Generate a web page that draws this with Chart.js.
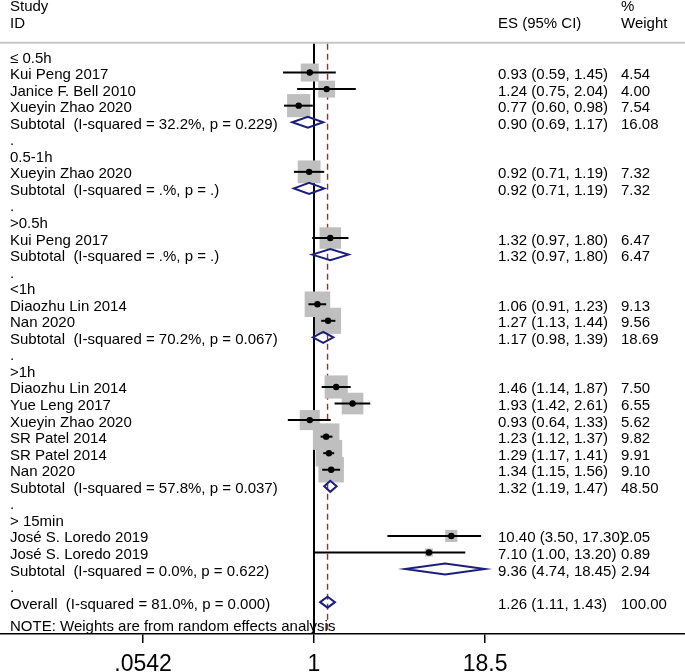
<!DOCTYPE html>
<html>
<head>
<meta charset="utf-8">
<script src="https://cdn.jsdelivr.net/npm/chart.js"></script>
<style>
  body { margin: 0; background: #fff; }
  #wrap { width: 685px; height: 672px; }
</style>
</head>
<body>

<div id="wrap"><canvas id="forest"></canvas></div>

<script>
// subgroups, in plot order
const groupLabels = ['≤ 0.5h', '0.5-1h', '>0.5h', '<1h', '>1h', '> 15min'];

// individual studies
const studyNames = [
  'Kui Peng 2017', 'Janice F. Bell 2010', 'Xueyin Zhao 2020',
  'Xueyin Zhao 2020',
  'Kui Peng 2017',
  'Diaozhu Lin 2014', 'Nan 2020',
  'Diaozhu Lin 2014', 'Yue Leng 2017', 'Xueyin Zhao 2020', 'SR Patel 2014', 'SR Patel 2014', 'Nan 2020',
  'José S. Loredo 2019', 'José S. Loredo 2019'
];
const studyGroup  = [0, 0, 0, 1, 2, 3, 3, 4, 4, 4, 4, 4, 4, 5, 5];
const studyES     = [0.93, 1.24, 0.77, 0.92, 1.32, 1.06, 1.27, 1.46, 1.93, 0.93, 1.23, 1.29, 1.34, 10.40, 7.10];
const studyLow    = [0.59, 0.75, 0.60, 0.71, 0.97, 0.91, 1.13, 1.14, 1.42, 0.64, 1.12, 1.17, 1.15, 3.50, 1.00];
const studyHigh   = [1.45, 2.04, 0.98, 1.19, 1.80, 1.23, 1.44, 1.87, 2.61, 1.33, 1.37, 1.41, 1.56, 17.30, 13.20];
const studyWeight = [4.54, 4.00, 7.54, 7.32, 6.47, 9.13, 9.56, 7.50, 6.55, 5.62, 9.82, 9.91, 9.10, 2.05, 0.89];

// subgroup pooled estimates
const subHet    = ['I-squared = 32.2%, p = 0.229', 'I-squared = .%, p = .', 'I-squared = .%, p = .',
                   'I-squared = 70.2%, p = 0.067', 'I-squared = 57.8%, p = 0.037', 'I-squared = 0.0%, p = 0.622'];
const subES     = [0.90, 0.92, 1.32, 1.17, 1.32, 9.36];
const subLow    = [0.69, 0.71, 0.97, 0.98, 1.19, 4.74];
const subHigh   = [1.17, 1.19, 1.80, 1.39, 1.47, 18.45];
const subWeight = [16.08, 7.32, 6.47, 18.69, 48.50, 2.94];

// overall
const overallHet = 'I-squared = 81.0%, p = 0.000';
const overallES = 1.26, overallLow = 1.11, overallHigh = 1.43, overallWeight = 100.00;

const xTicks = [0.0542, 1, 18.5];
const xTickLabels = ['.0542', '1', '18.5'];

// lay the rows out top to bottom
const rows = [];
groupLabels.forEach(function (g, gi) {
  if (gi > 0) rows.push({ kind: 'gap', text: '.' });
  rows.push({ kind: 'head', text: g });
  studyNames.forEach(function (n, i) {
    if (studyGroup[i] !== gi) return;
    rows.push({ kind: 'study', text: n, es: studyES[i], lo: studyLow[i], hi: studyHigh[i], w: studyWeight[i] });
  });
  rows.push({ kind: 'sub', text: 'Subtotal  (' + subHet[gi] + ')', es: subES[gi], lo: subLow[gi], hi: subHigh[gi], w: subWeight[gi] });
});
rows.push({ kind: 'gap', text: '.' });
rows.push({ kind: 'overall', text: 'Overall  (' + overallHet + ')', es: overallES, lo: overallLow, hi: overallHigh, w: overallWeight });

const FONT = '15px "Liberation Sans", Arial, sans-serif';
const NAVY = '#1b1f7c';

function fmt(v) { return v.toFixed(2); }

const studyPts = [];
const boxRadius = [];
rows.forEach(function (r, i) {
  if (r.kind !== 'study') return;
  studyPts.push({ x: r.es, y: i });
  boxRadius.push(8.45 * Math.sqrt(r.w) / Math.SQRT2);
});

const forestPlugin = {
  id: 'forest',
  beforeDatasetsDraw(chart) {
    const { ctx, chartArea } = chart;
    const x = chart.scales.x, y = chart.scales.y;
    const ruleY = y.getPixelForValue(-0.8);
    ctx.save();
    ctx.strokeStyle = '#c6c6c6';
    ctx.lineWidth = 2;
    ctx.beginPath();
    ctx.moveTo(0, ruleY); ctx.lineTo(chart.width, ruleY);
    ctx.stroke();

    // null line
    const x1 = x.getPixelForValue(1);
    ctx.strokeStyle = '#000';
    ctx.lineWidth = 2;
    ctx.beginPath();
    ctx.moveTo(x1, ruleY + 1); ctx.lineTo(x1, chartArea.bottom);
    ctx.stroke();

    // overall effect line
    const xo = x.getPixelForValue(overallES);
    ctx.strokeStyle = '#a12e2e';
    ctx.lineWidth = 1.4;
    ctx.setLineDash([6, 4]);
    ctx.beginPath();
    ctx.moveTo(xo, ruleY + 1); ctx.lineTo(xo, chartArea.bottom);
    ctx.stroke();
    ctx.restore();
  },
  afterDatasetsDraw(chart) {
    const { ctx } = chart;
    const x = chart.scales.x, y = chart.scales.y;
    ctx.save();

    rows.forEach(function (r, i) {
      const py = y.getPixelForValue(i);
      if (r.kind === 'study') {
        ctx.strokeStyle = '#000';
        ctx.lineWidth = 2;
        ctx.beginPath();
        ctx.moveTo(x.getPixelForValue(r.lo), py);
        ctx.lineTo(x.getPixelForValue(r.hi), py);
        ctx.stroke();
      } else if (r.kind === 'sub' || r.kind === 'overall') {
        const xl = x.getPixelForValue(r.lo), xm = x.getPixelForValue(r.es), xh = x.getPixelForValue(r.hi);
        ctx.strokeStyle = NAVY;
        ctx.lineWidth = 2;
        ctx.beginPath();
        ctx.moveTo(xl, py);
        ctx.lineTo(xm, py - 5.5);
        ctx.lineTo(xh, py);
        ctx.lineTo(xm, py + 5.5);
        ctx.closePath();
        ctx.stroke();
      }
    });

    // text columns
    ctx.fillStyle = '#000';
    ctx.font = FONT;
    ctx.textBaseline = 'alphabetic';
    ctx.textAlign = 'left';
    const colES = 498, colW = 621, colL = 10;

    const hy1 = y.getPixelForValue(-3.14) + 6.5;
    const hy2 = y.getPixelForValue(-2.10) + 6.5;
    ctx.fillText('Study', colL, hy1);
    ctx.fillText('ID', colL, hy2);
    ctx.fillText('ES (95% CI)', colES, hy2);
    ctx.fillText('%', colW, hy1);
    ctx.fillText('Weight', colW, hy2);

    rows.forEach(function (r, i) {
      const by = y.getPixelForValue(i) + 6.5;
      ctx.fillText(r.text, colL, by);
      if (r.es !== undefined) {
        ctx.fillText(fmt(r.es) + ' (' + fmt(r.lo) + ', ' + fmt(r.hi) + ')', colES, by);
        ctx.fillText(fmt(r.w), colW, by);
      }
    });

    ctx.fillText('NOTE: Weights are from random effects analysis', colL, y.getPixelForValue(34.38) + 6.5);
    ctx.restore();
  }
};

new Chart(document.getElementById('forest'), {
  type: 'scatter',
  data: {
    datasets: [
      {
        label: 'point',
        data: studyPts,
        pointStyle: 'circle',
        pointRadius: 3.2,
        backgroundColor: '#000',
        borderWidth: 0,
        order: 1
      },
      {
        label: 'weight',
        data: studyPts,
        pointStyle: 'rect',
        pointRadius: boxRadius,
        backgroundColor: '#bfbfbf',
        borderWidth: 0,
        order: 2
      }
    ]
  },
  options: {
    responsive: true,
    maintainAspectRatio: false,
    animation: false,
    layout: { padding: 0, autoPadding: false },
    plugins: {
      legend: { display: false },
      tooltip: { enabled: false }
    },
    scales: {
      x: {
        type: 'logarithmic',
        min: 0.00472,
        max: 560,
        afterBuildTicks: function (scale) {
          scale.ticks = xTicks.map(function (v) { return { value: v }; });
        },
        afterFit: function (scale) { scale.height = 38; },
        ticks: {
          color: '#000',
          padding: 14,
          maxRotation: 0,
          autoSkip: false,
          font: { family: '"Liberation Sans", Arial, sans-serif', size: 23, lineHeight: '16px' },
          callback: function (value, index) { return xTickLabels[index]; }
        },
        grid: { display: true, drawOnChartArea: false, drawTicks: true, tickLength: 9, color: '#000', lineWidth: 1.5 },
        border: { display: true, color: '#000', width: 1.5 }
      },
      y: {
        type: 'linear',
        reverse: true,
        min: -3.384,
        max: 34.925,
        display: false
      }
    }
  },
  plugins: [forestPlugin]
});
</script>

</body>
</html>
